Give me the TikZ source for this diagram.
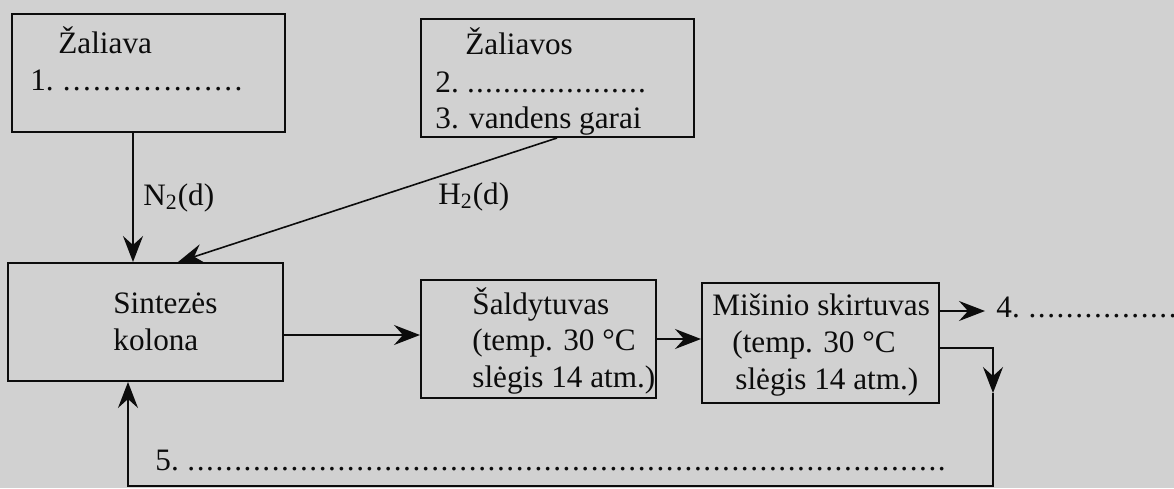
\documentclass[tikz,border=0pt]{standalone}
\usepackage{fontspec}
\setmainfont{Liberation Serif}
\usetikzlibrary{arrows.meta,fit}
\definecolor{paper}{RGB}{209,209,209}
\definecolor{ink}{RGB}{12,12,12}
% evenly spaced leader dots: #1 total width, #2 pitch of one dot
\newcommand\leaderdots[2]{\hbox to #1{\xleaders\hbox to #2{\hss.\hss}\hfill}}

\begin{document}
\begin{tikzpicture}[x=0.5pt,y=-0.5pt,
  box/.style={draw=ink,line width=1pt,inner sep=0pt},
  lbl/.style={anchor=base west,inner sep=0pt,text=ink,
    font=\fontsize{15.6pt}{18.5pt}\selectfont},
  arr/.style={draw=ink,line width=0.8pt,
    -{Stealth[length=13pt,width=10pt,inset=4.5pt]}}]
\fill[paper] (0,0) rectangle (1174,488);
\useasboundingbox (0,0) rectangle (1174,488);

% boxes
\node[box,fit={(12,14)(285,132)}] (A) {};
\node[box,fit={(421,19)(694,137)}] (B) {};
\node[box,fit={(8,263)(283,381)}] (S) {};
\node[box,fit={(421,280)(656,398)}] (Sal) {};
\node[box,fit={(702,283)(939,403)}] (M) {};

% texts of the raw-material boxes
\node[lbl] (a1) at (58,53) {Žaliava};
\node[lbl] (a2) at (30,90) {1.\ \leaderdots{91pt}{5pt}};
\node[lbl] (b1) at (465,54) {Žaliavos};
\node[lbl] (b2) at (435,92) {2.\ \leaderdots{90pt}{4.5pt}};
\node[lbl] (b3) at (435,128) {3. vandens garai};

% stream labels
\node[lbl] (n2) at (143,205) {N\textsubscript{2}(d)};
\node[lbl] (h2) at (438,204) {H\textsubscript{2}(d)};

% synthesis column
\node[lbl] (s1) at (113,313) {Sintezės};
\node[lbl] (s2) at (113,350) {kolona};

% cooler
\node[lbl] (c1) at (472,314) {Šaldytuvas};
\node[lbl] (c2) at (472,350) {(temp. 30 °C};
\node[lbl] (c3) at (472,387) {slėgis 14 atm.)};

% separator
\node[lbl] (m1) at (712,315) {Mišinio skirtuvas};
\node[lbl] (m2) at (732,352) {(temp. 30 °C};
\node[lbl] (m3) at (735,389) {slėgis 14 atm.)};

% products
\node[lbl] (t4) at (996,317) {4.\ \leaderdots{75pt}{4.5pt}};
\node[lbl] (t5) at (155,470) {5.\ \leaderdots{380pt}{4.65pt}};

% feed streams
\coordinate (xn) at (133,0);
\draw[arr] (A.south -| xn) -- (S.north -| xn);
\coordinate (hA) at (557,0);
\coordinate (hB) at (178,0);
\draw[arr] (B.south -| hA) -- (S.north -| hB);

% main flow
\coordinate (yS) at (0,335);
\draw[arr] (S.east |- yS) -- (Sal.west |- yS);
\draw[arr] (Sal.east) -- (Sal.east -| M.west);
\coordinate (p4) at (985,311);
\draw[arr] (M.east |- p4) -- (p4);

% recycle loop
\coordinate (rt) at (993,348);
\coordinate (dn) at (993,393);
\coordinate (cr) at (993,486);
\coordinate (bl) at (128,486);
\draw[arr] (M.east |- rt) -- (rt) -- (dn);
\draw[arr] (dn) -- (cr) -- (bl) -- (S.south -| bl);
\end{tikzpicture}
\end{document}
